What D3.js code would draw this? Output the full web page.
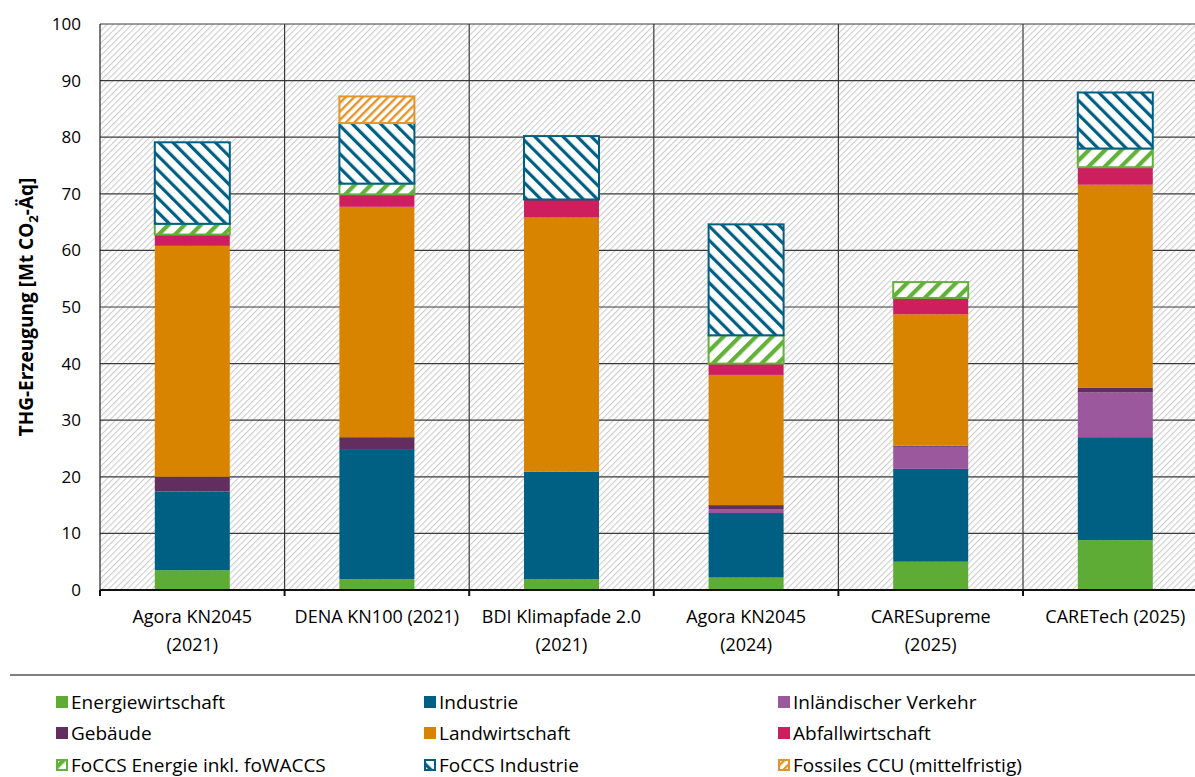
<!DOCTYPE html>
<html>
<head>
<meta charset="utf-8">
<script src="https://cdn.jsdelivr.net/npm/d3@7"></script>
<style>
  body { margin: 0; background: #fff; }
  svg { display: block; font-family: "Open Sans", "Noto Sans", sans-serif; }
</style>
</head>
<body>
<script>
// categories (x axis), two-line labels
var categories = ["Agora KN2045 (2021)", "DENA KN100 (2021)", "BDI Klimapfade 2.0 (2021)",
                  "Agora KN2045 (2024)", "CARESupreme (2025)", "CARETech (2025)"];
var catLabels = [["Agora KN2045", "(2021)"], ["DENA KN100 (2021)"], ["BDI Klimapfade 2.0", "(2021)"],
                 ["Agora KN2045", "(2024)"], ["CARESupreme", "(2025)"], ["CARETech (2025)"]];

// series values in Mt CO2-Aeq
var energiewirtschaft = [3.5, 1.9, 1.9, 2.2, 5.0, 8.8];
var industrie         = [13.9, 23.0, 19.0, 11.4, 16.4, 18.2];
var verkehr           = [0, 0, 0, 0.7, 3.9, 7.9];
var gebaeude          = [2.6, 2.1, 0, 0.7, 0.2, 0.8];
var landwirtschaft    = [40.8, 40.7, 44.9, 23.0, 23.2, 35.9];
var abfallwirtschaft  = [2.0, 2.2, 3.2, 2.0, 2.9, 3.1];
var foccsEnergie      = [1.9, 1.9, 0, 5.0, 2.8, 3.3];
var foccsIndustrie    = [14.4, 10.7, 11.2, 19.6, 0, 9.9];
var fossilesCCU       = [0, 4.7, 0, 0, 0, 0];

var yTicks = [0, 10, 20, 30, 40, 50, 60, 70, 80, 90, 100];

var series = [
  { name: "Energiewirtschaft", values: energiewirtschaft, color: "#5eac35" },
  { name: "Industrie", values: industrie, color: "#006084" },
  { name: "Inländischer Verkehr", values: verkehr, color: "#9c589c" },
  { name: "Gebäude", values: gebaeude, color: "#622e60" },
  { name: "Landwirtschaft", values: landwirtschaft, color: "#d88400" },
  { name: "Abfallwirtschaft", values: abfallwirtschaft, color: "#cd1f5d" },
  { name: "FoCCS Energie inkl. foWACCS", values: foccsEnergie, color: "#62b23a", pattern: "patFE" },
  { name: "FoCCS Industrie", values: foccsIndustrie, color: "#006084", pattern: "patFI" },
  { name: "Fossiles CCU (mittelfristig)", values: fossilesCCU, color: "#e4952a", pattern: "patCCU" }
];

var W = 1195, H = 777;
var plotLeft = 100, plotTop = 24, plotBottom = 590;
var bandW = 184.6;

var svg = d3.select("body").append("svg")
    .attr("width", W)
    .attr("height", H);

var defs = svg.append("defs");

// stripe patterns: rotate(45) gives "/", rotate(-45) gives "\"
function stripes(id, period, thick, color, angle, bg) {
  var p = defs.append("pattern")
      .attr("id", id)
      .attr("patternUnits", "userSpaceOnUse")
      .attr("width", period)
      .attr("height", period)
      .attr("patternTransform", "rotate(" + angle + ")");
  p.append("rect").attr("width", period).attr("height", period).attr("fill", bg);
  p.append("rect").attr("x", 0).attr("width", thick).attr("height", period).attr("fill", color);
}
stripes("patBg", 4.4, 1.1, "#cccccc", 45, "#fff");
stripes("patFE", 11.5, 4.2, "#62b23a", 45, "#fff");
stripes("patFI", 10, 3.2, "#006084", -45, "#fff");
stripes("patCCU", 6, 2.4, "#e4952a", 45, "#fff");

var x = d3.scaleBand()
    .domain(categories)
    .range([plotLeft, plotLeft + bandW * categories.length])
    .paddingInner(0)
    .paddingOuter(0);

var y = d3.scaleLinear()
    .domain([0, 100])
    .range([plotBottom, plotTop]);

var barW = 75;

// plot background
svg.append("rect")
    .attr("x", plotLeft)
    .attr("y", plotTop)
    .attr("width", x.range()[1] - plotLeft)
    .attr("height", plotBottom - plotTop)
    .attr("fill", "url(#patBg)");

// horizontal grid
svg.selectAll("line.hgrid")
    .data(yTicks.filter(function(d) { return d > 0; }))
    .enter()
    .append("line")
    .attr("class", "hgrid")
    .attr("x1", plotLeft)
    .attr("x2", x.range()[1])
    .attr("y1", function(d) { return y(d); })
    .attr("y2", function(d) { return y(d); })
    .attr("stroke", "#3a3a3a")
    .attr("stroke-width", 1.2);

// vertical grid at category boundaries
svg.selectAll("line.vgrid")
    .data(categories)
    .enter()
    .append("line")
    .attr("class", "vgrid")
    .attr("x1", function(d) { return x(d) + x.bandwidth(); })
    .attr("x2", function(d) { return x(d) + x.bandwidth(); })
    .attr("y1", plotTop)
    .attr("y2", plotBottom)
    .attr("stroke", "#3a3a3a")
    .attr("stroke-width", 1.2);

// stacked bars
var stacked = [];
categories.forEach(function(c, i) {
  var base = 0;
  series.forEach(function(s) {
    var v = s.values[i];
    if (v > 0) {
      stacked.push({ cat: c, y0: base, y1: base + v, s: s });
    }
    base += v;
  });
});

svg.selectAll("rect.seg")
    .data(stacked)
    .enter()
    .append("rect")
    .attr("class", "seg")
    .attr("x", function(d) { return x(d.cat) + (x.bandwidth() - barW) / 2; })
    .attr("y", function(d) { return y(d.y1); })
    .attr("width", barW)
    .attr("height", function(d) { return y(d.y0) - y(d.y1); })
    .attr("fill", function(d) { return d.s.pattern ? "url(#" + d.s.pattern + ")" : d.s.color; })
    .attr("stroke", function(d) { return d.s.pattern ? d.s.color : "none"; })
    .attr("stroke-width", 2);

// left axis line
svg.append("line")
    .attr("x1", plotLeft).attr("x2", plotLeft)
    .attr("y1", plotTop).attr("y2", plotBottom)
    .attr("stroke", "#222").attr("stroke-width", 1.2);

// y tick labels
svg.selectAll("text.ytick")
    .data(yTicks)
    .enter()
    .append("text")
    .attr("class", "ytick")
    .attr("x", 81)
    .attr("y", function(d) { return y(d); })
    .attr("dy", "0.35em")
    .attr("text-anchor", "end")
    .attr("font-size", "17px")
    .attr("fill", "#000")
    .text(function(d) { return d; });

// x axis line and ticks
svg.append("line")
    .attr("x1", plotLeft).attr("x2", W)
    .attr("y1", plotBottom).attr("y2", plotBottom)
    .attr("stroke", "#111").attr("stroke-width", 2);

svg.selectAll("line.xtick")
    .data([plotLeft].concat(categories.map(function(c) { return x(c) + x.bandwidth(); })))
    .enter()
    .append("line")
    .attr("class", "xtick")
    .attr("x1", function(d) { return d; })
    .attr("x2", function(d) { return d; })
    .attr("y1", plotBottom)
    .attr("y2", plotBottom + 6)
    .attr("stroke", "#111").attr("stroke-width", 2);

// x labels
var xl = svg.selectAll("text.xlab")
    .data(categories)
    .enter()
    .append("text")
    .attr("class", "xlab")
    .attr("text-anchor", "middle")
    .attr("font-size", "18px")
    .attr("fill", "#000");
xl.each(function(c, i) {
  var t = d3.select(this);
  catLabels[i].forEach(function(line, j) {
    t.append("tspan")
      .attr("x", x(c) + x.bandwidth() / 2)
      .attr("y", 623 + j * 28)
      .text(line);
  });
});

// y axis title
var yt = svg.append("text")
    .attr("transform", "translate(33," + ((plotTop + plotBottom) / 2) + ") rotate(-90)")
    .attr("text-anchor", "middle")
    .attr("font-size", "19px")
    .attr("font-weight", "bold")
    .attr("fill", "#000");
yt.append("tspan").text("THG-Erzeugung [Mt CO");
yt.append("tspan").attr("font-size", "13px").attr("dy", 5).text("2");
yt.append("tspan").attr("dy", -5).text("-Äq]");

// separator line
svg.append("line")
    .attr("x1", 10).attr("x2", W)
    .attr("y1", 675).attr("y2", 675)
    .attr("stroke", "#000").attr("stroke-width", 1.2);

// legend
var legX = [56, 424, 778];
var legY = [702, 733, 765];
var leg = svg.selectAll("g.leg")
    .data(series)
    .enter()
    .append("g")
    .attr("class", "leg")
    .attr("transform", function(d, i) {
      return "translate(" + legX[i % 3] + "," + legY[Math.floor(i / 3)] + ")";
    });

leg.append("rect")
    .attr("x", function(d) { return d.pattern ? 1 : 0; })
    .attr("y", function(d) { return d.pattern ? -5 : -6; })
    .attr("width", function(d) { return d.pattern ? 10 : 12; })
    .attr("height", function(d) { return d.pattern ? 10 : 12; })
    .attr("fill", function(d) { return d.pattern ? "url(#" + d.pattern + ")" : d.color; })
    .attr("stroke", function(d) { return d.pattern ? d.color : "none"; })
    .attr("stroke-width", 2);

leg.append("text")
    .attr("x", 15)
    .attr("dy", "0.35em")
    .attr("font-size", "19px")
    .attr("fill", "#000")
    .text(function(d) { return d.name; });
</script>
</body>
</html>
